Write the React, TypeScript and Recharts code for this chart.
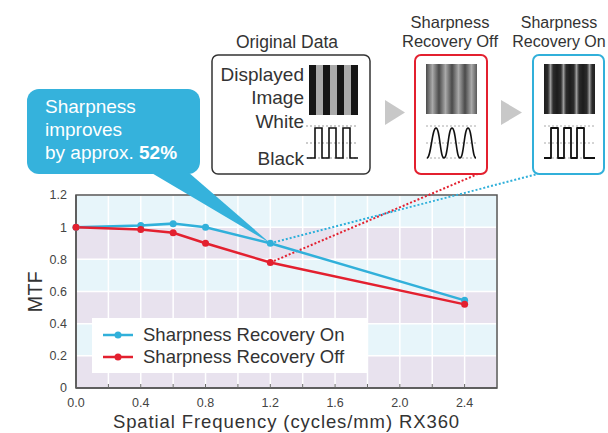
import React from "react";
import {
  LineChart,
  Line,
  XAxis,
  YAxis,
  CartesianGrid,
  Legend,
  ReferenceArea,
  ReferenceLine,
  Label,
} from "recharts";

// spatial frequency (cycles/mm)
const freq = [0, 0.4, 0.6, 0.8, 1.2, 2.4];
const mtfOn = [1.0, 1.01, 1.022, 1.0, 0.9, 0.545];
const mtfOff = [1.0, 0.985, 0.965, 0.9, 0.78, 0.52];

const seriesNames = ["Sharpness Recovery On", "Sharpness Recovery Off"];

const xTicks = [0, 0.2, 0.4, 0.6, 0.8, 1.0, 1.2, 1.4, 1.6, 1.8, 2.0, 2.2, 2.4];
const yTicks = [0, 0.2, 0.4, 0.6, 0.8, 1.0, 1.2];

// where the dotted leaders end (under the Off / On sample boxes)
const leaderOff = { x: 2.483, y: 1.331 };
const leaderOn = { x: 2.853, y: 1.331 };

const data = freq.map((f, i) => ({ freq: f, on: mtfOn[i], off: mtfOff[i] }));

const BLUE = "#31b0da";
const RED = "#e3202f";
const FONT = '"Liberation Sans", Arial, Helvetica, sans-serif';

// plot box (matches chart margins below)
const PLOT = { left: 76, top: 195, width: 421, height: 193 };
const X_MAX = 2.6;
const Y_MAX = 1.2;
const px = (x: number) => PLOT.left + (x / X_MAX) * PLOT.width;
const py = (y: number) => PLOT.top + PLOT.height - (y / Y_MAX) * PLOT.height;

const XTick = (props: any) => {
  const { x, y, payload } = props;
  const v = payload.value;
  const showLabel = Math.round(v * 10) % 4 === 0;
  return (
    <g>
      <line x1={x} x2={x} y1={y - 4} y2={y} stroke="#666" strokeWidth={1} />
      {showLabel && (
        <text x={x} y={y + 19} textAnchor="middle" fontSize={12.5} fill="#444">
          {v.toFixed(1)}
        </text>
      )}
    </g>
  );
};

const fmtY = (v: number) => (v === 0 ? "0" : v === 1 ? "1" : v.toFixed(1));

const renderLegend = (props: any) => {
  const items = [...(props.payload || [])].sort(
    (a: any, b: any) => seriesNames.indexOf(a.value) - seriesNames.indexOf(b.value)
  );
  return (
    <div
      style={{
        background: "#fff",
        width: 275,
        height: 55,
        boxSizing: "border-box",
        paddingTop: 6,
        paddingLeft: 11,
      }}
    >
      {items.map((p: any) => (
        <div
          key={p.value}
          style={{ display: "flex", alignItems: "center", height: 22 }}
        >
          <svg width={30} height={10}>
            <line x1={0} x2={30} y1={5} y2={5} stroke={p.color} strokeWidth={2.5} />
            <circle cx={15} cy={5} r={3.5} fill={p.color} />
          </svg>
          <span style={{ marginLeft: 10, fontSize: 18.5, color: "#333" }}>
            {p.value}
          </span>
        </div>
      ))}
    </div>
  );
};

function Illustrations() {
  const tipX = px(1.2);
  const tipY = py(mtfOn[4]);
  return (
    <svg
      width={608}
      height={433}
      style={{ position: "absolute", left: 0, top: 0, pointerEvents: "none" }}
    >
      <defs>
        <linearGradient id="blurStripes" gradientUnits="userSpaceOnUse" x1={426} x2={439} y1={0} y2={0} spreadMethod="repeat">
          <stop offset="0" stopColor="#4a4a4a" />
          <stop offset="0.5" stopColor="#a9a9a9" />
          <stop offset="1" stopColor="#4a4a4a" />
        </linearGradient>
        <linearGradient id="sharpStripes" gradientUnits="userSpaceOnUse" x1={544} x2={557} y1={0} y2={0} spreadMethod="repeat">
          <stop offset="0" stopColor="#1c1c1c" />
          <stop offset="0.3" stopColor="#2c2c2c" />
          <stop offset="0.5" stopColor="#9a9a9a" />
          <stop offset="0.7" stopColor="#2c2c2c" />
          <stop offset="1" stopColor="#1c1c1c" />
        </linearGradient>
      </defs>

      {/* callout */}
      <rect x={27} y={89} width={173} height={85} rx={12} fill="#35b2dc" />
      <polygon points={`150,172 188,172 ${tipX},${tipY}`} fill="#35b2dc" />
      <text x={45} y={113} fontSize={19} fill="#fff">Sharpness</text>
      <text x={45} y={136} fontSize={19} fill="#fff">improves</text>
      <text x={45} y={159} fontSize={19} fill="#fff">
        by approx. <tspan fontWeight="bold">52%</tspan>
      </text>

      {/* original data */}
      <text x={287} y={48} fontSize={17.5} fill="#333" textAnchor="middle">Original Data</text>
      <rect x={212} y={55} width={158} height={119} rx={6} fill="#fff" stroke="#333" strokeWidth={1.5} />
      <text x={304} y={81} fontSize={19} fill="#333" textAnchor="end">Displayed</text>
      <text x={304} y={104} fontSize={19} fill="#333" textAnchor="end">Image</text>
      <text x={304} y={128} fontSize={19} fill="#333" textAnchor="end">White</text>
      <text x={304} y={165} fontSize={19} fill="#333" textAnchor="end">Black</text>
      <rect x={309} y={65} width={49} height={50} fill="#aaa" />
      {[309, 323, 337, 351].map((x) => (
        <rect key={x} x={x} y={65} width={7} height={50} fill="#161616" />
      ))}
      {[126, 143, 158].map((y) => (
        <line key={y} x1={306} x2={358} y1={y} y2={y} stroke="#999" strokeDasharray="2 2" strokeWidth={1} />
      ))}
      <path
        d="M307,158 H315 V128 H322 V158 H329 V128 H336 V158 H343 V128 H350 V158 H358"
        fill="none"
        stroke="#111"
        strokeWidth={1.6}
      />

      {/* arrows */}
      <polygon points="385,100 405,112.5 385,125" fill="#c8c8c8" />
      <polygon points="501,100 522,112.5 501,125" fill="#c8c8c8" />

      {/* recovery off */}
      <text x={450} y={28} fontSize={16.5} fill="#333" textAnchor="middle">Sharpness</text>
      <text x={450} y={47} fontSize={16.5} fill="#333" textAnchor="middle">Recovery Off</text>
      <rect x={415} y={55} width={72} height={119} rx={6} fill="#fff" stroke={RED} strokeWidth={2} />
      <rect x={426} y={64} width={51} height={50} fill="url(#blurStripes)" />
      {[126, 143, 158].map((y) => (
        <line key={y} x1={426} x2={477} y1={y} y2={y} stroke="#aaa" strokeDasharray="2 2" strokeWidth={1} />
      ))}
      <path
        d="M427,158 C431,158 432,128 436,128 C440,128 440,158 444,158 C448,158 448,128 452,128 C456,128 456,158 460,158 C464,158 464,128 468,128 C472,128 472,158 476,158"
        fill="none"
        stroke="#111"
        strokeWidth={1.6}
      />

      {/* recovery on */}
      <text x={559} y={28} fontSize={16} fill="#333" textAnchor="middle">Sharpness</text>
      <text x={559} y={47} fontSize={16} fill="#333" textAnchor="middle">Recovery On</text>
      <rect x={533} y={55} width={71} height={119} rx={6} fill="#fff" stroke={BLUE} strokeWidth={2} />
      <rect x={544} y={64} width={51} height={50} fill="url(#sharpStripes)" />
      {[126, 143, 158].map((y) => (
        <line key={y} x1={544} x2={595} y1={y} y2={y} stroke="#aaa" strokeDasharray="2 2" strokeWidth={1} />
      ))}
      <path
        d="M544,158 H551 V128 H558 V158 H564 V128 H571 V158 H577 V128 H584 V158 H595"
        fill="none"
        stroke="#111"
        strokeWidth={1.8}
        strokeLinejoin="round"
      />
    </svg>
  );
}

export default function App() {
  return (
    <div
      style={{
        position: "absolute",
        left: 0,
        top: 0,
        width: 608,
        height: 433,
        background: "#fff",
        fontFamily: FONT,
      }}
    >
      <LineChart
        width={608}
        height={433}
        data={data}
        margin={{ top: 195, right: 111, left: 0, bottom: 0 }}
      >
        <CartesianGrid
          stroke="#fff"
          strokeWidth={1.5}
          horizontalFill={["#e7f5fa", "#e8e2ee"]}
          fillOpacity={1}
        />
        <XAxis
          type="number"
          dataKey="freq"
          domain={[0, X_MAX]}
          ticks={xTicks}
          interval={0}
          height={45}
          tickSize={0}
          tickMargin={0}
          tickLine={false}
          tick={<XTick />}
          axisLine={{ stroke: "#555", strokeWidth: 1.5 }}
        >
          <Label
            value="Spatial Frequency (cycles/mm) RX360"
            position="insideBottom"
            offset={5}
            fontSize={18.5}
            fill="#333"
            style={{ letterSpacing: "0.9px" }}
          />
        </XAxis>
        <YAxis
          type="number"
          domain={[0, Y_MAX]}
          ticks={yTicks}
          interval={0}
          width={76}
          tickSize={0}
          tickMargin={9}
          tickLine={false}
          tickFormatter={fmtY}
          tick={{ fontSize: 12.5, fill: "#444" }}
          axisLine={{ stroke: "#555", strokeWidth: 1.5 }}
        >
          <Label
            value="MTF"
            angle={-90}
            position="insideLeft"
            offset={35}
            fontSize={19.5}
            fill="#333"
            style={{ textAnchor: "middle", letterSpacing: "0.5px" }}
          />
        </YAxis>
        <ReferenceArea
          x1={0}
          x2={X_MAX}
          y1={0}
          y2={Y_MAX}
          fill="none"
          stroke="#555"
          strokeWidth={1.5}
          ifOverflow="visible"
        />
        <ReferenceLine
          segment={[{ x: freq[4], y: mtfOff[4] }, leaderOff]}
          stroke={RED}
          strokeWidth={2}
          strokeDasharray="2 2"
          ifOverflow="visible"
        />
        <ReferenceLine
          segment={[{ x: freq[4], y: mtfOn[4] }, leaderOn]}
          stroke={BLUE}
          strokeWidth={2}
          strokeDasharray="2 2"
          ifOverflow="visible"
        />
        <Legend
          layout="vertical"
          align="center"
          verticalAlign="middle"
          content={renderLegend}
          wrapperStyle={{ left: 92, top: 318, width: 275, height: 55 }}
        />
        <Line
          dataKey="on"
          name={seriesNames[0]}
          stroke={BLUE}
          strokeWidth={2.5}
          dot={{ r: 3.5, fill: BLUE, stroke: BLUE, strokeWidth: 0 }}
          activeDot={false}
          isAnimationActive={false}
        />
        <Line
          dataKey="off"
          name={seriesNames[1]}
          stroke={RED}
          strokeWidth={2.5}
          dot={{ r: 3.5, fill: RED, stroke: RED, strokeWidth: 0 }}
          activeDot={false}
          isAnimationActive={false}
        />
      </LineChart>
      <Illustrations />
    </div>
  );
}
